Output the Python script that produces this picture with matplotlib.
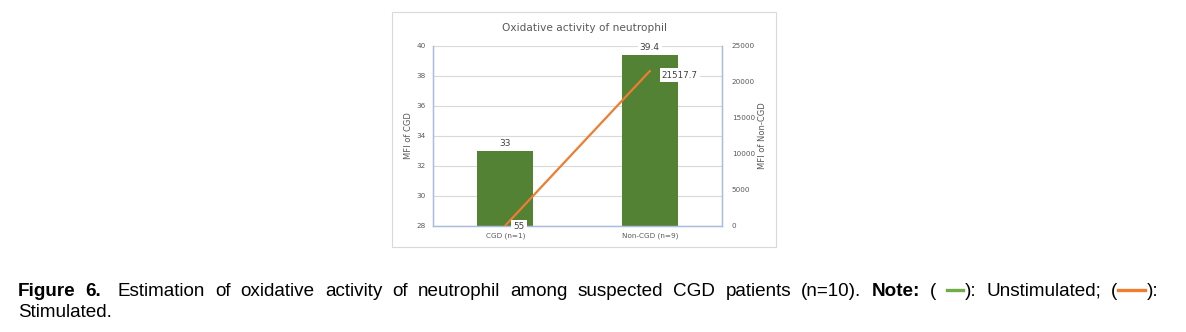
import matplotlib
matplotlib.use("Agg")
import matplotlib.pyplot as plt
from matplotlib.lines import Line2D
from matplotlib.patches import Rectangle

W, H = 1186, 332

categories = ["CGD (n=1)", "Non-CGD (n=9)"]
unstimulated = [33, 39.4]          # left axis, MFI of CGD
stimulated = [55, 21517.7]         # right axis, MFI of Non-CGD
left_ticks = [28, 30, 32, 34, 36, 38, 40]
right_ticks = [0, 5000, 10000, 15000, 20000, 25000]

caption1 = "Estimation of oxidative activity of neutrophil among suspected CGD patients (n=10)."
caption2 = "Stimulated."

GREEN = "#548235"
ORANGE = "#ED7D31"
GREY = "#595959"
SPINE = "#A9BCDC"
GRID = "#D9D9D9"


def px(x, y):
    # pixel coords (top-left origin) -> figure fraction
    return x / W, 1 - y / H


fig = plt.figure(figsize=(W / 100, H / 100), dpi=100)

# chart frame
fig.patches.append(Rectangle(px(392, 247), (776 - 392) / W, (247 - 12) / H,
                             transform=fig.transFigure, fill=False,
                             edgecolor="#D9D9D9", lw=0.8))

l, t = px(433, 46)
r, b = px(722, 226)
ax = fig.add_axes([l, b, r - l, t - b])
ax2 = ax.twinx()

x = list(range(len(categories)))
ax.bar(x, unstimulated, width=0.39, color=GREEN, zorder=2)
ax.set_xlim(-0.5, 1.5)
ax.set_ylim(28, 40)
ax.set_yticks(left_ticks)
ax.yaxis.grid(True, color=GRID, lw=0.8, zorder=0)
ax.set_axisbelow(True)
ax.set_xticks(x)
ax.set_xticklabels(categories)
ax.tick_params(axis="both", length=0, labelsize=5.2, labelcolor=GREY, pad=5)
ax.set_ylabel("MFI of CGD", fontsize=6, color=GREY, labelpad=3)

ax2.plot(x, stimulated, color=ORANGE, lw=1.6, zorder=3)
ax2.set_ylim(0, 25000)
ax2.set_yticks(right_ticks)
ax2.tick_params(axis="y", length=0, labelsize=5.2, labelcolor=GREY, pad=7)
ax2.set_ylabel("MFI of Non-CGD", fontsize=6, color=GREY, labelpad=2)

for a in (ax, ax2):
    a.spines["top"].set_visible(False)
    for s in ("left", "right", "bottom"):
        a.spines[s].set_color(SPINE)
        a.spines[s].set_linewidth(0.9)

box = dict(facecolor="white", edgecolor="none", pad=1.5)
for xi, v in zip(x, unstimulated):
    ax.annotate(f"{v:g}", (xi, v), xytext=(0, 3), textcoords="offset pixels",
                ha="center", va="bottom", fontsize=6.5, color="#404040", bbox=box)
ax2.annotate(f"{stimulated[0]:g}", (x[0], stimulated[0]), xytext=(8, -1),
             textcoords="offset pixels", ha="left", va="center", fontsize=6.3,
             color="#404040", bbox=box, zorder=4)
ax2.annotate(f"{stimulated[1]:g}", (x[1], stimulated[1]), xytext=(12, -4),
             textcoords="offset pixels", ha="left", va="center", fontsize=6.3,
             color="#404040", bbox=box, zorder=4)

fig.text(*px(584, 28), "Oxidative activity of neutrophil", fontsize=7.6,
         color=GREY, ha="center", va="center")

# caption with justified first line and inline legend marks
CAP = dict(family="Liberation Sans", fontsize=13.6, color="black")
MARK = "__mark__"
words = [[("Figure", "bold")], [("6.", "bold")]]
words += [[(w, "normal")] for w in caption1.split()]
words += [[("Note:", "bold")], [("(", "normal")],
          [(MARK, "#70AD47", 18), ("):", "normal")],
          [("Unstimulated;", "normal")],
          [("(", "normal"), (MARK, ORANGE, 29), ("):", "normal")]]

renderer = fig.canvas.get_renderer()
items = []
widths = []
for g in words:
    gw = 0
    row = []
    for p in g:
        if p[0] == MARK:
            row.append((p, p[2]))
            gw += p[2]
        else:
            tx = fig.text(0, 0, p[0], fontweight=p[1], **CAP)
            w = tx.get_window_extent(renderer).width
            row.append((tx, w))
            gw += w
    items.append(row)
    widths.append(gw)

x0, x1, base1 = 18, 1158, 296
extra = 6
gap = (x1 - x0 - sum(widths) - extra) / (len(words) - 1)
cx = x0
for i, row in enumerate(items):
    for obj, w in row:
        if isinstance(obj, tuple):
            fig.add_artist(Line2D([(cx + 1) / W, (cx + w - 1) / W],
                                  [1 - 290 / H] * 2, color=obj[1], lw=2.4,
                                  transform=fig.transFigure))
        else:
            obj.set_position(px(cx, base1))
            obj.set_va("baseline")
        cx += w
    cx += gap + (extra if i == 1 else 0)

fig.text(*px(18, 317), caption2, va="baseline", **CAP)

fig.savefig("out.png", dpi=100)
